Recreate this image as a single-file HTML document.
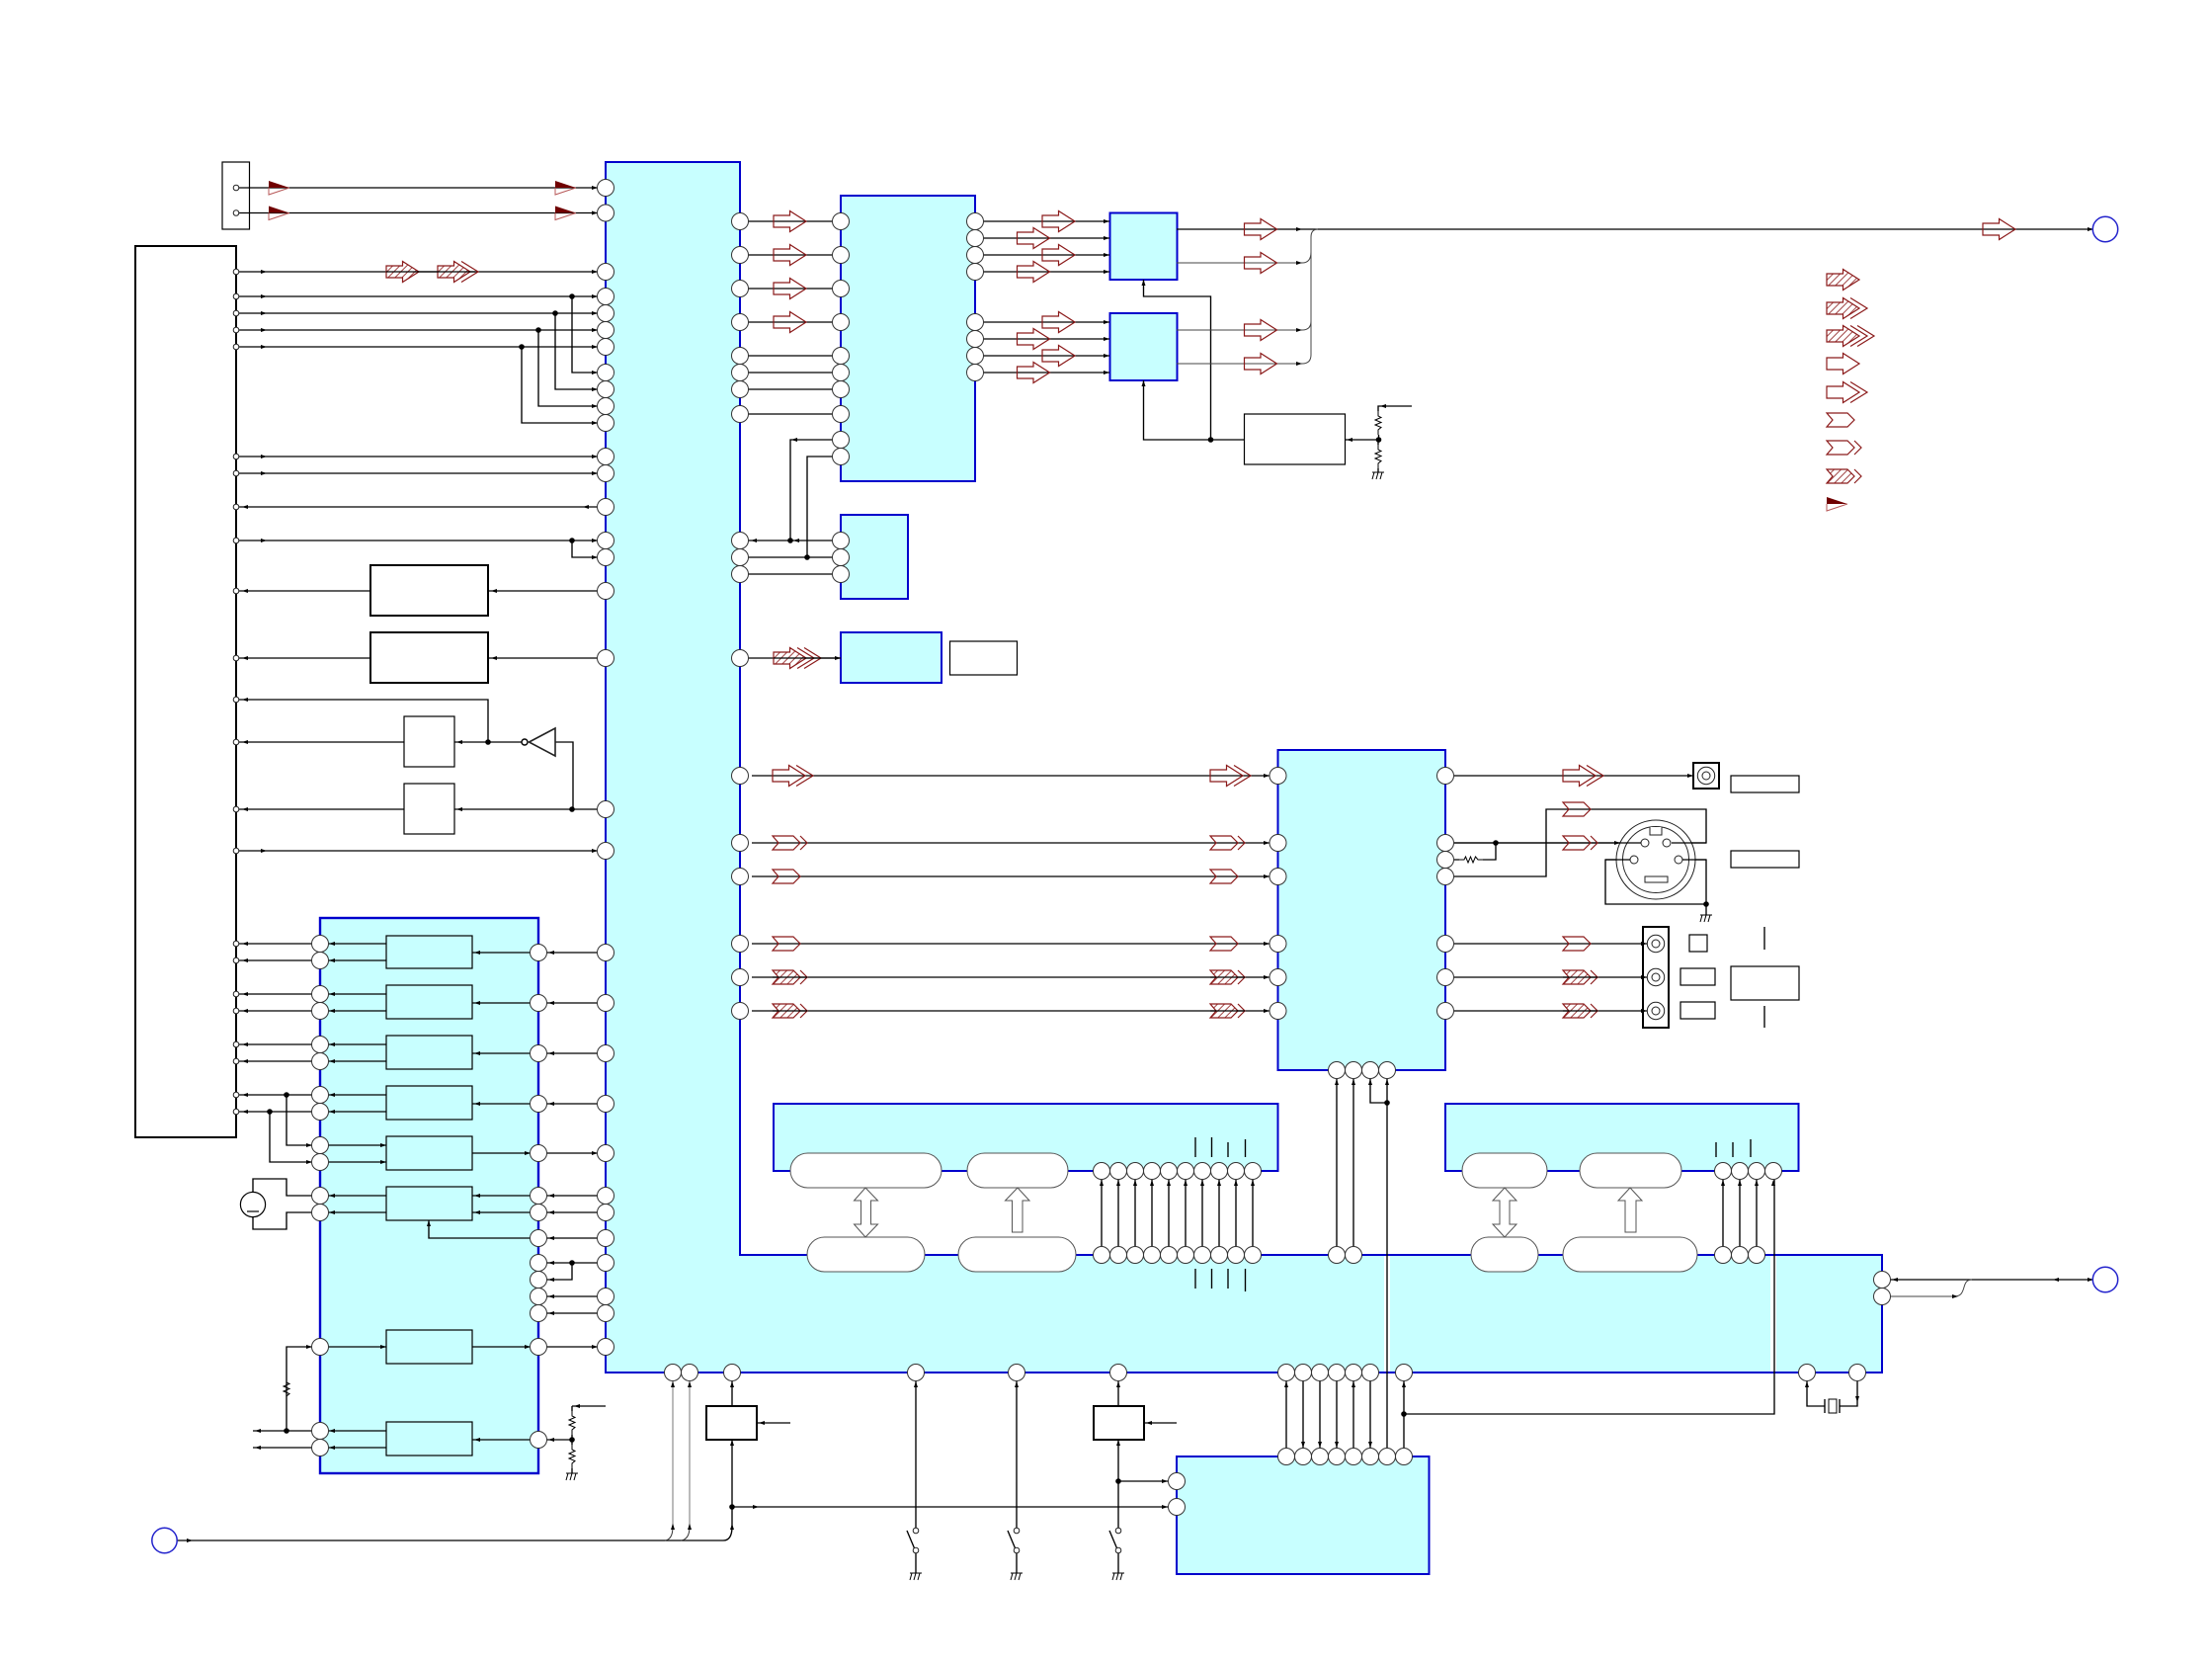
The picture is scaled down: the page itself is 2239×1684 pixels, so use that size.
<!DOCTYPE html>
<html><head><meta charset="utf-8"><title>Diagram</title>
<style>html,body{margin:0;padding:0;background:#fff}svg{display:block}</style></head>
<body>
<svg xmlns="http://www.w3.org/2000/svg" width="2239" height="1684" viewBox="0 0 2239 1684">
<defs>
<pattern id="h" width="5" height="5" patternUnits="userSpaceOnUse" patternTransform="rotate(45)"><rect width="5" height="5" fill="#fff"/><line x1="0" y1="0" x2="0" y2="5" stroke="#8b1a1a" stroke-width="1.6"/></pattern>
<circle id="p" r="8.5" fill="#fff" stroke="#333" stroke-width="1"/>
<circle id="s" r="2.8" fill="#fff" stroke="#222" stroke-width="1"/>
<circle id="j" r="2.8" fill="#000"/>
<path id="rv" d="M0,-12V-7L3,-5.5L-3,-3L3,-.5L-3,2L3,4.5L0,7V12" fill="none" stroke="#000" stroke-width="1"/>
<path id="rh" d="M-12,0H-7L-5.5,-3L-3,3L-.5,-3L2,3L4.5,-3L7,0H12" fill="none" stroke="#000" stroke-width="1"/>
<path id="g" d="M-6,0H6M-4,0L-6,7M0,0L-2,7M4,0L2,7" fill="none" stroke="#000" stroke-width="1"/>
<g id="oa" fill="none" stroke="#8b1a1a" stroke-width="1.2"><path d="M0,-6H16.5V-10.5L33,0L16.5,10.5V6H0Z"/></g>
<g id="oa1" fill="none" stroke="#8b1a1a" stroke-width="1.2"><path d="M0,-6H16.5V-10.5L33,0L16.5,10.5V6H0Z"/><path d="M24,-10.5L41,0L24,10.5"/></g>
<g id="ha" stroke="#8b1a1a" stroke-width="1.2"><path d="M0,-6H16.5V-10.5L33,0L16.5,10.5V6H0Z" fill="url(#h)"/></g>
<g id="ha1" stroke="#8b1a1a" stroke-width="1.2"><path d="M0,-6H16.5V-10.5L33,0L16.5,10.5V6H0Z" fill="url(#h)"/><path d="M24,-10.5L41,0L24,10.5" fill="none"/></g>
<g id="ha2" stroke="#8b1a1a" stroke-width="1.2"><path d="M0,-6H16.5V-10.5L33,0L16.5,10.5V6H0Z" fill="url(#h)"/><path d="M24,-10.5L41,0L24,10.5M31,-10.5L48,0L31,10.5" fill="none"/></g>
<g id="pe" fill="none" stroke="#8b1a1a" stroke-width="1.2"><path d="M0,-7H21L28,0L21,7H0L6,0Z"/></g>
<g id="pe1" fill="none" stroke="#8b1a1a" stroke-width="1.2"><path d="M0,-7H21L28,0L21,7H0L6,0Z"/><path d="M28,-7L35,0L28,7"/></g>
<g id="hp1" stroke="#8b1a1a" stroke-width="1.2"><path d="M0,-7H21L28,0L21,7H0L6,0Z" fill="url(#h)"/><path d="M28,-7L35,0L28,7" fill="none"/></g>
<g id="fl"><path d="M0,-7L21,0H0Z" fill="#700000"/><path d="M0,0V7L21,0" fill="none" stroke="#b85a5a" stroke-width="1"/></g>
<g id="co" fill="none" stroke="#222" stroke-width="1"><circle r="8.7" fill="#fff"/><circle r="4"/></g>
</defs>

<rect width="2239" height="1684" fill="#fff"/>

<!-- cyan blocks -->
<g fill="#c8ffff" stroke="#0000cc" stroke-width="2">
<path d="M613,164H749V1270H1905V1389H613Z"/>
<rect x="851" y="198" width="136" height="289"/>
<rect x="851" y="521" width="68" height="85"/>
<rect x="851" y="640" width="102" height="51"/>
<rect x="1123.5" y="215.5" width="68" height="67.5"/>
<rect x="1123.5" y="317" width="68" height="68"/>
<rect x="1293.5" y="759" width="169.5" height="324"/>
<rect x="783" y="1117" width="510.5" height="68"/>
<rect x="1463" y="1117" width="357.5" height="68"/>
<rect x="324" y="929" width="221" height="562" stroke-width="2.4"/>
<rect x="1191" y="1474" width="255.5" height="119"/>
</g>
<path d="M1401,1271h6v117h-6zM1792,1271h6v117h-6z" fill="#fff"/>

<!-- inner blocks -->
<g fill="#c8ffff" stroke="#000" stroke-width="1.2">
<rect x="391" y="947" width="87" height="33"/>
<rect x="391" y="997" width="87" height="34"/>
<rect x="391" y="1048" width="87" height="34"/>
<rect x="391" y="1099" width="87" height="34"/>
<rect x="391" y="1150" width="87" height="34"/>
<rect x="391" y="1201" width="87" height="34"/>
<rect x="391" y="1346" width="87" height="34"/>
<rect x="391" y="1439" width="87" height="34"/>
</g>

<!-- black outlined boxes -->
<g fill="#fff" stroke="#000" stroke-width="1.2">
<rect x="225" y="164" width="27.5" height="68"/>
<rect x="1259.5" y="419" width="102" height="51"/>
<rect x="961.5" y="649" width="68" height="34"/>
<rect x="409" y="725" width="51" height="51"/>
<rect x="409" y="793" width="51" height="51"/>
<rect x="1752" y="785" width="69" height="17"/>
<rect x="1752" y="861" width="69" height="17"/>
<rect x="1710" y="946" width="18" height="17"/>
<rect x="1701" y="980" width="35" height="17"/>
<rect x="1701" y="1014" width="35" height="17"/>
<rect x="1752" y="978" width="69" height="34"/>
</g>
<g fill="#fff" stroke="#000" stroke-width="2">
<rect x="137" y="249" width="102" height="902"/>
<rect x="375" y="572" width="119" height="51"/>
<rect x="375" y="640" width="119" height="51"/>
<rect x="715" y="1423" width="51" height="34"/>
<rect x="1107" y="1423" width="51" height="34"/>
<rect x="1714" y="772" width="26" height="26"/>
<rect x="1663" y="938" width="26" height="102"/>
</g>

<!-- pills -->
<g fill="#fff" stroke="#555" stroke-width="1">
<rect x="800" y="1167" width="153" height="35" rx="17.5"/>
<rect x="979" y="1167" width="102" height="35" rx="17.5"/>
<rect x="817" y="1252" width="119" height="35" rx="17.5"/>
<rect x="970" y="1252" width="119" height="35" rx="17.5"/>
<rect x="1480" y="1167" width="86" height="35" rx="17.5"/>
<rect x="1599" y="1167" width="103" height="35" rx="17.5"/>
<rect x="1489" y="1252" width="68" height="35" rx="17.5"/>
<rect x="1582" y="1252" width="136" height="35" rx="17.5"/>
<!-- hollow arrows -->
<path d="M876,1202L888.5,1215H881.5V1239H888.5L876,1252L864.5,1239H871.5V1215H864.5Z"/>
<path d="M1030,1202L1042,1215H1035V1247H1024.5V1215H1017.5Z"/>
<path d="M1523,1202L1535,1215H1528V1239H1535L1523,1252L1511,1239H1518V1215H1511Z"/>
<path d="M1650,1202L1662,1215H1656V1247H1645V1215H1638Z"/>
</g>

<!-- wires -->
<path fill="none" stroke="#000" stroke-width="1.35" d="
M239,190H605M239,215.5H605
M239,275H605M239,300H605M239,317H605M239,334H605M239,351H605
M579,300V377H605M562,317V394H605M545,334V411H605M528,351V428H605
M239,462H605M239,479H605M239,513H605M239,547H605M579,547V564H605
M239,598H375M494,598H605M239,666H375M494,666H605
M239,708H494V751M239,751H409M460,751H528M562,751H580V819M239,819H409M460,819H605M239,861H605
M239,955H316M239,972H316M239,1006H316M239,1023H316M239,1057H316M239,1074H316M239,1108H316M239,1125H316
M332,955H391M332,972H391M332,1006H391M332,1023H391M332,1057H391M332,1074H391M332,1108H391M332,1125H391
M478,964H537M478,1015H537M478,1066H537M478,1117H537
M553,964H605M553,1015H605M553,1066H605M553,1117H605
M290,1108V1159H316M273,1125V1176H316M332,1159H391M332,1176H391M478,1167H605
M256,1206V1193H290V1210H316M256,1232V1244H290V1227H316M332,1210H391M332,1227H391
M478,1210H605M478,1227H605M434,1235V1253H605M579,1278H553M579,1278H605M579,1278V1295H553M553,1312H605M553,1329H605
M316,1363H290V1448M332,1363H391M478,1363H605
M256,1448H316M256,1465H316M332,1448H391M332,1465H391M478,1457H537M553,1457H579M579,1423H613M579,1423V1428M579,1452V1457M579,1457V1462M579,1486V1491
M179,1559H732Q741,1559 741,1545V1457M741,1423V1398
M927,1398V1546M1029,1398V1546M1132,1398V1423M1132,1457V1546
M927,1572V1592M1029,1572V1592M1132,1572V1592
M918,1549L926,1568M1020,1549L1028,1568M1123,1549L1131,1568
M741,1525H1182M1132,1499H1182M766,1440H800M1158,1440H1191
M1302,1398V1465M1319,1398V1465M1336,1398V1465M1353,1398V1465M1370,1398V1465M1387,1398V1465M1421,1398V1465
M1404,1092V1465M1387,1092V1116H1404M1421,1431H1796V1194
M1353,1092V1261M1370,1092V1261
M1829,1398V1423H1847M1862,1423H1880V1398
M1847,1416V1430M1862,1416V1430
M749,224H851M749,258H851M749,292H851M749,326H851M749,360H851M749,377H851M749,394H851M749,419H851
M800,547V445H851M817,564V462H851
M749,547H851M749,564H851M749,581H851M749,666H851
M987,224H1123M987,241H1123M987,258H1123M987,275H1123
M987,326H1123M987,343H1123M987,360H1123M987,377H1123
M1191,232H2119
M1157.5,283V300H1225.5V445M1157.5,385V445H1259.5M1361.5,445H1395.5V440M1395,416V411H1429M1395,445V450M1395,474V478
M1115,1194V1261M1132,1194V1261M1149,1194V1261M1166,1194V1261M1183,1194V1261M1200,1194V1261M1217,1194V1261M1234,1194V1261M1251,1194V1261M1268,1194V1261
M1744,1194V1261M1761,1194V1261M1778,1194V1261
M1210,1151V1171M1226.5,1151V1171M1243,1156V1171M1260.5,1153V1171
M1210,1284V1304M1226.5,1284V1304M1243,1284V1304M1260.5,1284V1307
M1737,1156V1171M1754,1156V1171M1772,1153V1171
M761,785H1285M761,853H1285M761,887H1285M761,955H1285M761,989H1285M761,1023H1285
M1472,785H1714M1472,853H1661M1514,853V870H1501M1472,870H1477M1472,887H1565V819H1727V853H1692
M1472,955H1667M1472,989H1667M1472,1023H1667
M1650,870H1625V915H1727V870H1703M1727,915V926
M1786,938V961M1786,1018V1040
M1905,1295H2118.5"/>
<path fill="none" stroke="#444" stroke-width="1" d="M1191,266H1318Q1327,266 1327,255V240Q1327,232 1334,232M1191,334H1318Q1327,334 1327,325M1191,368H1318Q1327,368 1327,359V255M1905,1312H1978C1992,1312 1984,1295 1996,1295"/>
<path fill="none" stroke="#aaa" stroke-width="1.6" d="M681,1398V1545M698,1398V1545"/>
<path fill="none" stroke="#333" stroke-width="1" d="M673,1559Q681,1558 681,1545M689,1559Q698,1558 698,1545"/>

<!-- arrowheads -->
<path fill="#000" d="
M605,190l-6-2v4zM605,215.5l-6-2v4zM605,275l-6-2v4zM605,300l-6-2v4zM605,317l-6-2v4zM605,334l-6-2v4zM605,351l-6-2v4zM605,377l-6-2v4zM605,394l-6-2v4zM605,411l-6-2v4zM605,428l-6-2v4zM605,462l-6-2v4zM605,479l-6-2v4zM605,547l-6-2v4zM605,564l-6-2v4zM605,861l-6-2v4z
M270,275l-6-2v4zM270,300l-6-2v4zM270,317l-6-2v4zM270,334l-6-2v4zM270,351l-6-2v4zM270,462l-6-2v4zM270,479l-6-2v4zM270,547l-6-2v4zM270,861l-6-2v4z
M245,513l6-2v4zM590,513l6-2v4zM245,598l6-2v4zM245,666l6-2v4zM497,598l6-2v4zM497,666l6-2v4zM245,708l6-2v4zM245,751l6-2v4zM245,819l6-2v4zM462,751l6-2v4zM462,819l6-2v4z
M245,955l6-2v4zM245,972l6-2v4zM245,1006l6-2v4zM245,1023l6-2v4zM245,1057l6-2v4zM245,1074l6-2v4zM245,1108l6-2v4zM245,1125l6-2v4z
M333,955l6-2v4zM333,972l6-2v4zM333,1006l6-2v4zM333,1023l6-2v4zM333,1057l6-2v4zM333,1074l6-2v4zM333,1108l6-2v4zM333,1125l6-2v4zM333,1210l6-2v4zM333,1227l6-2v4zM333,1448l6-2v4zM333,1465l6-2v4z
M480,964l6-2v4zM480,1015l6-2v4zM480,1066l6-2v4zM480,1117l6-2v4zM480,1210l6-2v4zM480,1227l6-2v4zM480,1457l6-2v4z
M555,964l6-2v4zM555,1015l6-2v4zM555,1066l6-2v4zM555,1117l6-2v4zM555,1210l6-2v4zM555,1227l6-2v4zM555,1253l6-2v4zM555,1278l6-2v4zM555,1295l6-2v4zM555,1312l6-2v4zM555,1329l6-2v4zM555,1457l6-2v4z
M258,1448l6-2v4zM258,1465l6-2v4zM581,1423l6-2v4z
M316,1159l-6-2v4zM316,1176l-6-2v4zM316,1363l-6-2v4zM391,1159l-6-2v4zM391,1176l-6-2v4zM391,1363l-6-2v4zM537,1167l-6-2v4zM605,1167l-6-2v4zM537,1363l-6-2v4zM605,1363l-6-2v4z
M434,1235l-2,6h4z
M681,1398l-2,6h4zM698,1398l-2,6h4zM741,1398l-2,6h4zM927,1398l-2,6h4zM1029,1398l-2,6h4zM1132,1398l-2,6h4zM681,1542l-2,6h4zM698,1542l-2,6h4zM741,1542l-2,6h4zM741,1457l-2,6h4zM1132,1457l-2,6h4z
M768,1440l6-2v4zM1160,1440l6-2v4z
M1182,1499l-6-2v4zM1182,1525l-6-2v4zM768,1525l-6-2v4z
M1302,1398l-2,6h4zM1370,1398l-2,6h4zM1421,1398l-2,6h4zM1319,1465l-2-6h4zM1336,1465l-2-6h4zM1353,1465l-2-6h4zM1387,1465l-2-6h4z
M1353,1092l-2,6h4zM1370,1092l-2,6h4zM1387,1092l-2,6h4zM1404,1092l-2,6h4z
M1829,1398l-2,6h4zM1880,1419l-2-6h4z
M851,224l-6-2v4zM851,258l-6-2v4zM851,292l-6-2v4zM851,326l-6-2v4zM851,360l-6-2v4zM851,377l-6-2v4zM851,394l-6-2v4zM851,419l-6-2v4zM851,445l-6-2v4zM851,462l-6-2v4zM851,547l-6-2v4zM851,564l-6-2v4zM851,581l-6-2v4zM851,666l-6-2v4z
M801,445l6-2v4zM760,547l6-2v4zM803,547l6-2v4z
M1123,224l-6-2v4zM1123,241l-6-2v4zM1123,258l-6-2v4zM1123,275l-6-2v4zM1123,326l-6-2v4zM1123,343l-6-2v4zM1123,360l-6-2v4zM1123,377l-6-2v4z
M1318,232l-6-2v4zM1318,266l-6-2v4zM1318,334l-6-2v4zM1318,368l-6-2v4zM2119,232l-6-2v4z
M1157.5,283l-2,6h4zM1157.5,385l-2,6h4zM1363,445l6-2v4zM1397,411l6-2v4z
M1115,1194l-2,6h4zM1132,1194l-2,6h4zM1149,1194l-2,6h4zM1166,1194l-2,6h4zM1183,1194l-2,6h4zM1200,1194l-2,6h4zM1217,1194l-2,6h4zM1234,1194l-2,6h4zM1251,1194l-2,6h4zM1268,1194l-2,6h4zM1744,1194l-2,6h4zM1761,1194l-2,6h4zM1778,1194l-2,6h4zM1795,1194l-2,6h4z
M1285,785l-6-2v4zM1285,853l-6-2v4zM1285,887l-6-2v4zM1285,955l-6-2v4zM1285,989l-6-2v4zM1285,1023l-6-2v4z
M1714,785l-6-2v4zM1640,853l-6-2v4zM1694,853l6-2v4zM1667,955l-6-2v4zM1667,989l-6-2v4zM1667,1023l-6-2v4z
M1915,1295l6-2v4zM1982,1312l-6-2v4zM2078,1295l6-2v4zM2119,1295l-6-2v4z
M195,1559l-6-2v4z"/>

<!-- junctions -->
<g>
<use href="#j" x="579" y="300"/><use href="#j" x="562" y="317"/><use href="#j" x="545" y="334"/><use href="#j" x="528" y="351"/><use href="#j" x="579" y="547"/>
<use href="#j" x="494" y="751"/><use href="#j" x="579" y="819"/>
<use href="#j" x="290" y="1108"/><use href="#j" x="273" y="1125"/><use href="#j" x="579" y="1278"/><use href="#j" x="290" y="1448"/><use href="#j" x="579" y="1457"/>
<use href="#j" x="741" y="1525"/><use href="#j" x="1132" y="1499"/><use href="#j" x="1421" y="1431"/><use href="#j" x="1404" y="1116"/>
<use href="#j" x="800" y="547"/><use href="#j" x="817" y="564"/><use href="#j" x="1225.5" y="445"/><use href="#j" x="1395.5" y="445"/>
<use href="#j" x="1514" y="853"/><use href="#j" x="1727" y="915"/>
</g>

<!-- resistors and grounds -->
<use href="#rv" x="290" y="1406"/>
<use href="#rv" x="579" y="1440"/><use href="#rv" x="579" y="1474"/>
<use href="#rv" x="1395" y="428"/><use href="#rv" x="1395" y="462"/>
<use href="#rh" x="1489" y="870"/>
<use href="#g" x="579" y="1491"/><use href="#g" x="1395" y="478"/><use href="#g" x="1727" y="926"/>
<use href="#g" x="927" y="1592"/><use href="#g" x="1029" y="1592"/><use href="#g" x="1132" y="1592"/>
<use href="#s" x="927" y="1549"/><use href="#s" x="927" y="1569"/><use href="#s" x="1029" y="1549"/><use href="#s" x="1029" y="1569"/><use href="#s" x="1132" y="1549"/><use href="#s" x="1132" y="1569"/>

<!-- crystal -->
<rect x="1851" y="1416" width="8" height="14" fill="#fff" stroke="#000" stroke-width="1"/>

<!-- inverter -->
<path d="M535.5,751L562,737V765Z" fill="#fff" stroke="#222" stroke-width="1.6"/>
<circle cx="531" cy="751" r="3" fill="#fff" stroke="#000" stroke-width="1.4"/>

<!-- speaker -->
<circle cx="256" cy="1219" r="12.6" fill="#fff" stroke="#000" stroke-width="1.2"/>
<path d="M250,1226H262" stroke="#000" stroke-width="1.2"/>

<!-- connectors -->
<g fill="none" stroke="#222" stroke-width="1">
<circle cx="1676" cy="870" r="40" fill="#fff"/>
<circle cx="1676" cy="870" r="33.5"/>
<path d="M1670,837V845H1682V837" fill="#fff"/>
<rect x="1665" y="887" width="23" height="6"/>
<circle cx="1665" cy="853" r="4" fill="#fff"/><circle cx="1687" cy="853" r="4" fill="#fff"/>
<circle cx="1654" cy="870" r="4" fill="#fff"/><circle cx="1699" cy="870" r="4" fill="#fff"/>
</g>
<path d="M1472,853H1661M1650,870H1625M1703,870H1727M1692,853H1727" fill="none" stroke="#000" stroke-width="1.35"/>
<use href="#co" x="1727" y="785"/><use href="#co" x="1676" y="955"/><use href="#co" x="1676" y="989"/><use href="#co" x="1676" y="1023"/>

<!-- small terminals -->
<use href="#s" x="239" y="190"/><use href="#s" x="239" y="215.5"/>
<use href="#s" x="239" y="275"/><use href="#s" x="239" y="300"/><use href="#s" x="239" y="317"/><use href="#s" x="239" y="334"/><use href="#s" x="239" y="351"/><use href="#s" x="239" y="462"/><use href="#s" x="239" y="479"/><use href="#s" x="239" y="513"/><use href="#s" x="239" y="547"/><use href="#s" x="239" y="598"/><use href="#s" x="239" y="666"/><use href="#s" x="239" y="708"/><use href="#s" x="239" y="751"/><use href="#s" x="239" y="819"/><use href="#s" x="239" y="861"/>
<use href="#s" x="239" y="955"/><use href="#s" x="239" y="972"/><use href="#s" x="239" y="1006"/><use href="#s" x="239" y="1023"/><use href="#s" x="239" y="1057"/><use href="#s" x="239" y="1074"/><use href="#s" x="239" y="1108"/><use href="#s" x="239" y="1125"/>

<!-- pins: main left -->
<use href="#p" x="613" y="190"/><use href="#p" x="613" y="215.5"/><use href="#p" x="613" y="275"/><use href="#p" x="613" y="300"/><use href="#p" x="613" y="317"/><use href="#p" x="613" y="334"/><use href="#p" x="613" y="351"/><use href="#p" x="613" y="377"/><use href="#p" x="613" y="394"/><use href="#p" x="613" y="411"/><use href="#p" x="613" y="428"/><use href="#p" x="613" y="462"/><use href="#p" x="613" y="479"/><use href="#p" x="613" y="513"/><use href="#p" x="613" y="547"/><use href="#p" x="613" y="564"/><use href="#p" x="613" y="598"/><use href="#p" x="613" y="666"/><use href="#p" x="613" y="819"/><use href="#p" x="613" y="861"/><use href="#p" x="613" y="964"/><use href="#p" x="613" y="1015"/><use href="#p" x="613" y="1066"/><use href="#p" x="613" y="1117"/><use href="#p" x="613" y="1167"/><use href="#p" x="613" y="1210"/><use href="#p" x="613" y="1227"/><use href="#p" x="613" y="1253"/><use href="#p" x="613" y="1278"/><use href="#p" x="613" y="1312"/><use href="#p" x="613" y="1329"/><use href="#p" x="613" y="1363"/>
<!-- main right -->
<use href="#p" x="749" y="224"/><use href="#p" x="749" y="258"/><use href="#p" x="749" y="292"/><use href="#p" x="749" y="326"/><use href="#p" x="749" y="360"/><use href="#p" x="749" y="377"/><use href="#p" x="749" y="394"/><use href="#p" x="749" y="419"/><use href="#p" x="749" y="547"/><use href="#p" x="749" y="564"/><use href="#p" x="749" y="581"/><use href="#p" x="749" y="666"/><use href="#p" x="749" y="785"/><use href="#p" x="749" y="853"/><use href="#p" x="749" y="887"/><use href="#p" x="749" y="955"/><use href="#p" x="749" y="989"/><use href="#p" x="749" y="1023"/>
<!-- block A, B -->
<use href="#p" x="851" y="224"/><use href="#p" x="851" y="258"/><use href="#p" x="851" y="292"/><use href="#p" x="851" y="326"/><use href="#p" x="851" y="360"/><use href="#p" x="851" y="377"/><use href="#p" x="851" y="394"/><use href="#p" x="851" y="419"/><use href="#p" x="851" y="445"/><use href="#p" x="851" y="462"/>
<use href="#p" x="987" y="224"/><use href="#p" x="987" y="241"/><use href="#p" x="987" y="258"/><use href="#p" x="987" y="275"/><use href="#p" x="987" y="326"/><use href="#p" x="987" y="343"/><use href="#p" x="987" y="360"/><use href="#p" x="987" y="377"/>
<use href="#p" x="851" y="547"/><use href="#p" x="851" y="564"/><use href="#p" x="851" y="581"/>
<!-- block G -->
<use href="#p" x="1293.5" y="785"/><use href="#p" x="1293.5" y="853"/><use href="#p" x="1293.5" y="887"/><use href="#p" x="1293.5" y="955"/><use href="#p" x="1293.5" y="989"/><use href="#p" x="1293.5" y="1023"/>
<use href="#p" x="1463" y="785"/><use href="#p" x="1463" y="853"/><use href="#p" x="1463" y="870"/><use href="#p" x="1463" y="887"/><use href="#p" x="1463" y="955"/><use href="#p" x="1463" y="989"/><use href="#p" x="1463" y="1023"/>
<use href="#p" x="1353" y="1083"/><use href="#p" x="1370" y="1083"/><use href="#p" x="1387" y="1083"/><use href="#p" x="1404" y="1083"/>
<!-- sub block -->
<use href="#p" x="324" y="955"/><use href="#p" x="324" y="972"/><use href="#p" x="324" y="1006"/><use href="#p" x="324" y="1023"/><use href="#p" x="324" y="1057"/><use href="#p" x="324" y="1074"/><use href="#p" x="324" y="1108"/><use href="#p" x="324" y="1125"/><use href="#p" x="324" y="1159"/><use href="#p" x="324" y="1176"/><use href="#p" x="324" y="1210"/><use href="#p" x="324" y="1227"/><use href="#p" x="324" y="1363"/><use href="#p" x="324" y="1448"/><use href="#p" x="324" y="1465"/>
<use href="#p" x="545" y="964"/><use href="#p" x="545" y="1015"/><use href="#p" x="545" y="1066"/><use href="#p" x="545" y="1117"/><use href="#p" x="545" y="1167"/><use href="#p" x="545" y="1210"/><use href="#p" x="545" y="1227"/><use href="#p" x="545" y="1253"/><use href="#p" x="545" y="1278"/><use href="#p" x="545" y="1295"/><use href="#p" x="545" y="1312"/><use href="#p" x="545" y="1329"/><use href="#p" x="545" y="1363"/><use href="#p" x="545" y="1457"/>
<!-- H/I pins -->
<use href="#p" x="1115" y="1185"/><use href="#p" x="1132" y="1185"/><use href="#p" x="1149" y="1185"/><use href="#p" x="1166" y="1185"/><use href="#p" x="1183" y="1185"/><use href="#p" x="1200" y="1185"/><use href="#p" x="1217" y="1185"/><use href="#p" x="1234" y="1185"/><use href="#p" x="1251" y="1185"/><use href="#p" x="1268" y="1185"/>
<use href="#p" x="1115" y="1270"/><use href="#p" x="1132" y="1270"/><use href="#p" x="1149" y="1270"/><use href="#p" x="1166" y="1270"/><use href="#p" x="1183" y="1270"/><use href="#p" x="1200" y="1270"/><use href="#p" x="1217" y="1270"/><use href="#p" x="1234" y="1270"/><use href="#p" x="1251" y="1270"/><use href="#p" x="1268" y="1270"/>
<use href="#p" x="1353" y="1270"/><use href="#p" x="1370" y="1270"/>
<use href="#p" x="1744" y="1185"/><use href="#p" x="1761" y="1185"/><use href="#p" x="1778" y="1185"/><use href="#p" x="1795" y="1185"/>
<use href="#p" x="1744" y="1270"/><use href="#p" x="1761" y="1270"/><use href="#p" x="1778" y="1270"/>
<!-- bottom of main -->
<use href="#p" x="681" y="1389"/><use href="#p" x="698" y="1389"/><use href="#p" x="741" y="1389"/><use href="#p" x="927" y="1389"/><use href="#p" x="1029" y="1389"/><use href="#p" x="1132" y="1389"/>
<use href="#p" x="1302" y="1389"/><use href="#p" x="1319" y="1389"/><use href="#p" x="1336" y="1389"/><use href="#p" x="1353" y="1389"/><use href="#p" x="1370" y="1389"/><use href="#p" x="1387" y="1389"/><use href="#p" x="1421" y="1389"/>
<use href="#p" x="1829" y="1389"/><use href="#p" x="1880" y="1389"/>
<use href="#p" x="1905" y="1295"/><use href="#p" x="1905" y="1312"/>
<!-- bottom block -->
<use href="#p" x="1302" y="1474"/><use href="#p" x="1319" y="1474"/><use href="#p" x="1336" y="1474"/><use href="#p" x="1353" y="1474"/><use href="#p" x="1370" y="1474"/><use href="#p" x="1387" y="1474"/><use href="#p" x="1404" y="1474"/><use href="#p" x="1421" y="1474"/>
<use href="#p" x="1191" y="1499"/><use href="#p" x="1191" y="1525"/>

<!-- off-page circles -->
<g fill="#fff" stroke="#2222cc" stroke-width="1.5">
<circle cx="2131" cy="232" r="12.7"/><circle cx="2131" cy="1295" r="12.7"/><circle cx="166.5" cy="1559" r="12.7"/>
</g>

<!-- signal flow symbols -->
<use href="#fl" x="272" y="190"/><use href="#fl" x="562" y="190"/><use href="#fl" x="272" y="215.5"/><use href="#fl" x="562" y="215.5"/>
<use href="#ha" x="391" y="275"/><use href="#ha1" x="443" y="275"/>
<use href="#oa" x="783" y="224"/><use href="#oa" x="783" y="258"/><use href="#oa" x="783" y="292"/><use href="#oa" x="783" y="326"/>
<use href="#oa" x="1055" y="224"/><use href="#oa" x="1029.5" y="241"/><use href="#oa" x="1055" y="258"/><use href="#oa" x="1029.5" y="275"/>
<use href="#oa" x="1055" y="326"/><use href="#oa" x="1029.5" y="343"/><use href="#oa" x="1055" y="360"/><use href="#oa" x="1029.5" y="377"/>
<use href="#oa" x="1259.5" y="232"/><use href="#oa" x="1259.5" y="266"/><use href="#oa" x="1259.5" y="334"/><use href="#oa" x="1259.5" y="368"/>
<use href="#oa" x="2007" y="232"/>
<use href="#ha2" x="783" y="666"/>
<use href="#oa1" x="782" y="785"/><use href="#oa1" x="1225" y="785"/><use href="#oa1" x="1582" y="785"/>
<use href="#pe1" x="782" y="853"/><use href="#pe1" x="1225" y="853"/><use href="#pe1" x="1582" y="853"/>
<use href="#pe" x="782" y="887"/><use href="#pe" x="1225" y="887"/><use href="#pe" x="1582" y="819"/>
<use href="#pe" x="782" y="955"/><use href="#pe" x="1225" y="955"/><use href="#pe" x="1582" y="955"/>
<use href="#hp1" x="782" y="989"/><use href="#hp1" x="1225" y="989"/><use href="#hp1" x="1582" y="989"/>
<use href="#hp1" x="782" y="1023"/><use href="#hp1" x="1225" y="1023"/><use href="#hp1" x="1582" y="1023"/>

<!-- wire passing through hatched symbols -->
<path d="M391,275H481M783,666H851M782,989H817M1225,989H1260M1582,989H1617M782,1023H817M1225,1023H1260M1582,1023H1617" stroke="#000" stroke-width="1.35" fill="none"/>

<!-- legend -->
<use href="#ha" x="1849" y="283"/><use href="#ha1" x="1849" y="312"/><use href="#ha2" x="1849" y="340"/>
<use href="#oa" x="1849" y="368"/><use href="#oa1" x="1849" y="397"/>
<use href="#pe" x="1849" y="425"/><use href="#pe1" x="1849" y="453"/><use href="#hp1" x="1849" y="482"/><use href="#fl" x="1849" y="510"/>
</svg>
</body></html>
